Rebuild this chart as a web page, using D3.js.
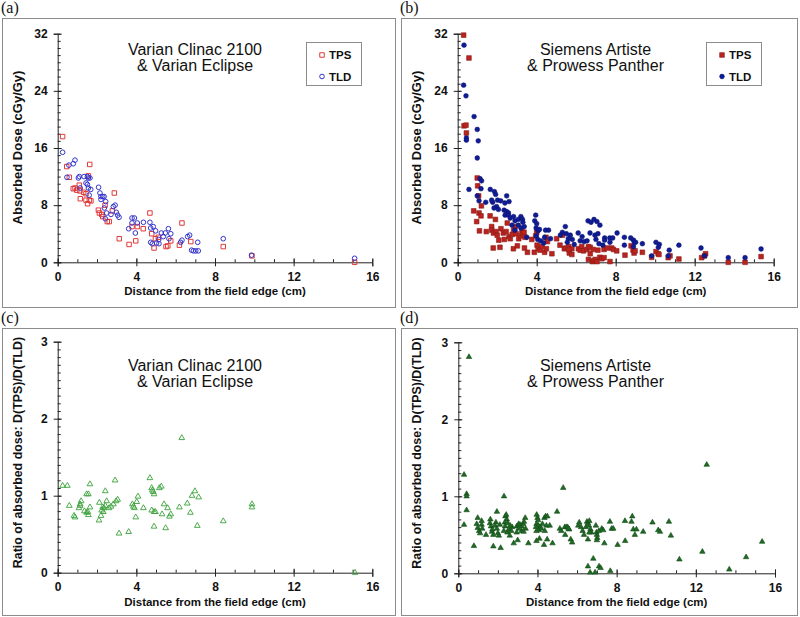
<!DOCTYPE html>
<html><head><meta charset="utf-8">
<script src="https://cdn.jsdelivr.net/npm/d3@7"></script>
<style>body{margin:0;background:#fff}svg{display:block}</style>
</head><body>
<svg id="chart" width="800" height="617"></svg>
<script>
// ---------- data ----------
const panelLabels = ["(a)", "(b)", "(c)", "(d)"];
const titlesA = ["Varian Clinac 2100", "& Varian Eclipse"];
const titlesB = ["Siemens Artiste", "& Prowess Panther"];
const seriesNames = ["TPS", "TLD"];
const xTicks = [0, 4, 8, 12, 16];
const doseTicks = [0, 8, 16, 24, 32];
const ratioTicks = [0, 1, 2, 3];
const xLabel = "Distance from the field edge (cm)";
const doseLabel = "Absorbed Dose (cGy/Gy)";
const ratioLabel = "Ratio of absorbed dose: D(TPS)/D(TLD)";

const varianTPS = [[0.25,17.6],[0.46,13.4],[0.59,11.9],[0.79,10.3],[0.88,10.4],[0.97,10.1],[1.1,10.8],[1.13,10.0],[1.15,8.9],[1.32,9.8],[1.44,9.6],[1.44,8.7],[1.52,8.2],[1.56,12.1],[1.63,13.7],[1.61,8.7],[1.69,8.6],[2.07,7.3],[2.12,6.9],[2.24,6.7],[2.29,6.4],[2.41,8.0],[2.52,5.7],[2.62,5.7],[2.78,7.2],[2.88,9.7],[3.13,3.3],[3.63,2.5],[3.97,3.0],[3.78,5.0],[4.05,5.0],[4.35,4.7],[4.69,6.9],[4.78,4.0],[4.9,2.0],[4.97,3.3],[5.12,3.5],[5.51,2.2],[5.6,2.3],[5.75,3.0],[6.32,5.5],[6.19,2.4],[6.77,2.9],[8.42,2.2],[9.88,0.9],[15.1,0.0]];
const varianTLD = [[0.25,15.4],[0.47,11.9],[0.57,13.6],[0.79,13.8],[0.88,14.3],[1.05,11.8],[1.1,12.0],[1.14,10.4],[1.34,12.0],[1.44,11.1],[1.51,12.0],[1.56,11.8],[1.51,10.9],[1.56,10.4],[1.64,11.8],[1.68,10.2],[1.6,9.4],[2.08,10.5],[2.15,9.7],[2.2,9.2],[2.29,9.2],[2.36,9.2],[2.2,8.8],[2.44,8.5],[2.37,7.6],[2.42,6.1],[2.49,6.9],[2.71,6.7],[2.83,7.8],[2.92,8.0],[2.98,7.0],[3.05,6.6],[3.12,6.3],[3.61,4.7],[3.78,6.2],[3.9,6.2],[3.78,5.5],[3.95,4.1],[4.05,5.5],[4.36,5.6],[4.69,5.6],[4.73,4.8],[4.86,5.0],[4.98,4.4],[4.73,2.8],[4.81,2.6],[5.03,2.7],[5.14,3.2],[5.27,4.1],[5.37,3.6],[5.47,4.1],[5.63,4.7],[5.75,4.0],[5.66,3.3],[5.15,2.6],[6.25,2.8],[6.32,3.1],[6.61,3.6],[6.71,3.8],[6.81,1.7],[6.9,1.6],[7.02,1.6],[7.15,1.6],[7.12,2.8],[8.42,3.3],[9.86,1.0],[15.1,0.56]];
const siemensTPS = [[0.3,31.8],[0.57,28.6],[0.32,19.1],[0.42,19.2],[0.44,18.1],[0.99,11.8],[1.01,10.7],[1.06,9.3],[0.81,7.2],[0.96,5.7],[1.08,6.9],[1.18,6.5],[1.1,4.4],[1.2,7.9],[1.45,4.3],[1.64,6.5],[1.72,5.0],[1.72,4.5],[1.81,4.1],[1.8,2.0],[1.91,6.0],[1.94,4.3],[2.0,3.8],[2.08,3.1],[2.14,2.1],[2.19,4.7],[2.31,4.1],[2.36,3.2],[2.45,4.3],[2.51,5.5],[2.6,3.6],[2.66,3.3],[2.76,3.9],[2.82,1.9],[2.83,4.5],[2.91,5.0],[2.96,4.0],[3.02,2.3],[3.09,3.3],[3.2,3.7],[3.25,4.4],[3.3,4.0],[3.36,4.2],[3.41,3.5],[3.38,2.0],[3.53,1.4],[3.75,3.2],[3.88,1.4],[3.95,3.7],[4.0,4.2],[4.02,2.4],[4.07,1.9],[4.17,1.7],[4.27,2.2],[4.4,1.4],[4.47,3.5],[4.49,1.9],[4.54,2.9],[4.77,1.2],[5.01,3.3],[5.18,2.4],[5.3,3.8],[5.4,1.9],[5.48,2.0],[5.62,2.2],[5.78,1.9],[5.65,1.3],[5.78,1.1],[5.62,1.8],[6.11,1.9],[6.2,1.7],[6.28,2.2],[6.37,1.6],[6.54,1.8],[6.62,2.2],[6.71,2.1],[6.71,1.2],[6.86,1.8],[6.62,0.4],[6.82,0.1],[6.88,0.2],[6.96,0.4],[7.05,0.1],[7.1,1.7],[7.2,0.7],[7.3,0.5],[7.41,1.8],[7.57,2.0],[7.8,2.0],[7.88,1.8],[8.05,1.6],[7.41,0.65],[7.71,0.1],[8.47,1.0],[8.78,2.3],[8.88,1.7],[8.93,1.3],[8.98,1.6],[9.35,1.4],[9.82,0.7],[10.04,1.5],[10.15,1.2],[10.19,1.1],[10.66,0.65],[10.75,0.9],[11.2,0.46],[12.35,0.65],[12.55,1.2],[12.5,0.9],[13.7,0.0],[14.55,0.0],[15.36,0.8]];
const siemensTLD = [[0.32,30.4],[0.3,24.8],[0.42,23.3],[0.83,20.4],[0.99,18.6],[0.44,17.4],[0.44,17.1],[1.04,17.0],[0.99,14.6],[1.13,11.7],[1.21,11.4],[1.18,10.3],[0.57,10.2],[0.99,9.3],[1.08,8.6],[1.42,8.4],[1.65,10.2],[1.86,9.9],[1.92,9.5],[1.77,8.4],[1.72,8.7],[2.02,8.7],[2.18,8.6],[1.97,7.8],[1.84,7.6],[2.06,7.4],[2.48,9.3],[2.6,8.5],[2.39,8.3],[2.35,7.3],[2.48,7.1],[2.57,6.9],[2.4,6.6],[2.57,6.6],[2.66,6.2],[2.83,6.4],[2.9,5.8],[3.07,6.0],[3.2,6.4],[3.28,6.0],[3.3,5.6],[3.07,5.2],[3.2,4.8],[3.37,5.0],[2.75,5.2],[2.9,4.5],[3.5,3.5],[3.95,6.6],[3.9,5.8],[4.0,5.4],[3.97,4.8],[4.07,4.4],[4.14,4.6],[3.98,3.7],[4.05,3.2],[4.2,3.0],[4.35,2.7],[4.45,4.5],[4.6,4.5],[4.4,3.5],[4.7,3.3],[5.2,3.8],[5.3,4.2],[5.45,5.0],[5.5,4.0],[5.6,3.3],[5.7,3.8],[5.8,3.2],[5.55,2.8],[5.9,2.5],[6.1,4.1],[6.2,3.0],[6.3,3.6],[6.4,2.9],[6.55,3.0],[6.6,5.8],[6.7,4.1],[6.75,5.6],[6.9,6.0],[6.95,3.8],[7.05,5.7],[7.1,4.0],[7.0,3.2],[7.2,5.2],[7.15,2.6],[7.35,2.4],[7.44,3.4],[7.44,3.1],[7.7,3.4],[7.85,3.4],[8.07,4.1],[7.71,2.8],[8.44,3.5],[8.44,2.4],[8.76,3.4],[8.9,3.1],[8.95,2.8],[9.01,2.8],[8.9,2.2],[9.35,2.6],[9.82,0.9],[10.04,2.8],[10.21,2.5],[10.16,2.1],[10.71,1.7],[10.66,0.9],[11.2,2.4],[12.32,2.0],[12.5,0.9],[13.7,0.65],[14.55,0.65],[15.36,1.86]];
const varianRatio = [[0.25,1.13],[0.49,1.13],[0.59,0.87],[0.83,0.74],[0.88,0.72],[1.08,0.84],[1.14,0.89],[1.19,0.93],[1.14,0.87],[1.36,0.8],[1.47,0.78],[1.56,0.75],[1.53,0.79],[1.64,0.85],[1.47,1.02],[1.56,1.02],[1.64,1.15],[2.1,0.68],[2.12,0.91],[2.2,0.74],[2.24,0.81],[2.29,0.85],[2.32,0.79],[2.36,0.84],[2.42,0.87],[2.42,1.06],[2.49,0.93],[2.61,0.84],[2.71,0.86],[2.83,0.89],[2.92,1.2],[2.97,0.93],[3.05,0.95],[3.12,0.51],[3.61,0.53],[3.8,0.89],[3.85,0.86],[3.9,0.84],[3.97,0.72],[4.02,0.92],[4.08,0.99],[4.36,0.84],[4.69,1.23],[4.78,1.1],[4.81,1.07],[4.86,1.05],[4.9,1.02],[4.78,0.81],[4.9,0.79],[4.97,0.79],[4.9,0.6],[5.17,1.1],[5.27,1.12],[5.31,0.76],[5.41,0.89],[5.49,0.58],[5.59,0.84],[5.68,0.73],[5.75,0.76],[6.19,0.85],[6.31,1.75],[6.59,0.9],[6.75,0.78],[6.83,1.0],[6.98,1.06],[7.17,0.98],[7.1,0.61],[8.42,0.67],[9.88,0.89],[9.88,0.85],[15.12,0.0]];
const siemensRatio = [[0.54,2.81],[0.29,1.28],[0.42,1.03],[0.42,1.0],[0.42,0.82],[0.29,0.63],[0.79,0.355],[0.98,0.72],[0.93,0.64],[0.98,0.59],[1.05,0.55],[1.1,0.52],[1.18,0.68],[1.18,0.63],[1.21,0.58],[1.4,0.5],[1.6,0.65],[1.65,0.61],[1.7,0.54],[1.77,0.5],[1.72,0.57],[1.62,0.7],[1.77,0.35],[1.95,0.8],[1.9,0.66],[1.85,0.62],[1.95,0.58],[2.0,0.52],[2.05,0.49],[2.1,0.63],[2.14,0.33],[2.31,1.0],[2.38,0.74],[2.42,0.76],[2.45,0.7],[2.35,0.66],[2.5,0.65],[2.36,0.61],[2.55,0.57],[2.3,0.55],[2.48,0.53],[2.6,0.49],[2.68,0.55],[2.72,0.6],[2.62,0.62],[2.8,0.39],[3.0,0.43],[2.95,0.61],[3.05,0.64],[3.12,0.63],[3.2,0.61],[3.28,0.64],[3.32,0.67],[3.38,0.72],[3.4,0.58],[3.2,0.55],[3.05,0.58],[2.95,0.53],[3.3,0.54],[3.54,0.39],[3.96,0.76],[4.0,0.72],[4.03,0.69],[3.95,0.64],[4.05,0.62],[4.12,0.6],[3.92,0.6],[4.08,0.56],[3.95,0.55],[4.1,0.45],[3.95,0.42],[4.2,0.58],[4.25,0.64],[4.33,0.37],[4.35,0.72],[4.41,0.74],[4.5,0.74],[4.45,0.62],[4.37,0.55],[4.49,0.44],[4.62,0.62],[4.76,0.39],[4.99,0.8],[5.3,1.11],[5.13,0.58],[5.2,0.55],[5.38,0.6],[5.45,0.6],[5.52,0.6],[5.4,0.5],[5.6,0.57],[5.68,0.44],[5.75,0.4],[5.57,0.58],[6.06,0.62],[6.11,0.66],[6.2,0.6],[6.28,0.55],[6.35,0.5],[6.45,0.6],[6.5,0.67],[6.55,0.65],[6.6,0.62],[6.62,0.68],[6.68,0.57],[6.72,0.53],[6.55,0.44],[6.62,0.53],[6.82,0.19],[6.55,0.09],[6.66,0.01],[6.91,0.01],[7.11,0.09],[7.19,0.07],[6.95,0.62],[6.98,0.53],[7.0,0.5],[7.02,0.46],[7.0,0.43],[7.1,0.55],[7.25,0.58],[7.32,0.56],[7.38,0.39],[7.66,0.67],[7.75,0.58],[7.83,0.58],[7.68,0.03],[8.05,0.37],[8.42,0.68],[8.43,0.42],[8.75,0.67],[8.79,0.74],[8.84,0.57],[8.92,0.5],[9.0,0.57],[9.34,0.54],[9.81,0.66],[10.1,0.56],[10.19,0.54],[10.64,0.67],[10.74,0.49],[11.17,0.18],[12.33,0.28],[12.55,1.41],[13.69,0.05],[14.54,0.21],[15.35,0.41]];

// ---------- drawing ----------
const svg = d3.select("#chart");
const FONT = "Liberation Sans, Arial, Helvetica, sans-serif";

const markers = {
  hollowSquare: {type: d3.symbolSquare, size: 20, fill: "none", stroke: "#e03a3a", sw: 1},
  hollowCircle: {type: d3.symbolCircle, size: 17, fill: "none", stroke: "#3434cc", sw: 1},
  filledSquare: {type: d3.symbolSquare, size: 22, fill: "#b8241f", stroke: "#8e1b17", sw: 0.6},
  filledCircle: {type: d3.symbolCircle, size: 18, fill: "#101c94", stroke: "#0a1270", sw: 0.5},
  hollowTri: {type: d3.symbolTriangle, size: 14, fill: "none", stroke: "#3aa23a", sw: 0.9},
  filledTri: {type: d3.symbolTriangle, size: 13, fill: "#1f6a24", stroke: "#134a17", sw: 0.6}
};

function drawPanel(cfg) {
  const g = svg.append("g");
  g.append("rect").attr("x", cfg.frame[0] + 0.5).attr("y", cfg.frame[1] + 0.5)
    .attr("width", cfg.frame[2]).attr("height", cfg.frame[3])
    .attr("fill", "none").attr("stroke", "#8c8c8c").attr("stroke-width", 1);
  g.append("text").attr("x", cfg.frame[0] - 1).attr("y", cfg.frame[1] - 5)
    .attr("font-family", "Liberation Serif, Times New Roman, serif").attr("font-size", 16)
    .attr("fill", "#111").text(cfg.label);

  const x = d3.scaleLinear().domain([0, 16]).range([cfg.left, cfg.right]);
  const y = d3.scaleLinear().domain(cfg.yDomain).range([cfg.bottom, cfg.top]);

  // minor ticks (inside)
  g.append("g").attr("transform", `translate(0,${cfg.bottom})`)
    .call(d3.axisBottom(x).tickValues(d3.range(0, 16.01, 1)).tickSize(-3).tickFormat(""))
    .call(s => { s.select(".domain").remove(); s.selectAll("line").attr("stroke", "#222"); });
  g.append("g").attr("transform", `translate(${cfg.left},0)`)
    .call(d3.axisLeft(y).tickValues(d3.range(cfg.yDomain[0], cfg.yDomain[1] + 1e-6, cfg.minorStep)).tickSize(-3).tickFormat(""))
    .call(s => { s.select(".domain").remove(); s.selectAll("line").attr("stroke", "#222"); });

  // major axes
  const gx = g.append("g").attr("transform", `translate(0,${cfg.bottom})`)
    .call(d3.axisBottom(x).tickValues(xTicks).tickSizeOuter(0).tickSize(4).tickFormat(d3.format("d")));
  gx.selectAll(".tick line").attr("y1", -4).attr("y2", 4);
  gx.selectAll(".tick text").attr("y", 10).attr("dy", "0.71em");
  const gy = g.append("g").attr("transform", `translate(${cfg.left},0)`)
    .call(d3.axisLeft(y).tickValues(cfg.yTicks).tickSizeOuter(0).tickSize(4).tickFormat(d3.format("d")));
  gy.selectAll(".tick line").attr("x1", -4).attr("x2", 4);
  gy.selectAll(".tick text").attr("x", -10);
  [gx, gy].forEach(a => {
    a.select(".domain").attr("stroke", "#222");
    a.selectAll(".tick line").attr("stroke", "#222");
    a.selectAll(".tick text").attr("font-family", FONT).attr("font-size", 12)
      .attr("font-weight", "bold").attr("fill", "#111");
  });

  // axis titles
  g.append("text").attr("x", (cfg.left + cfg.right) / 2).attr("y", cfg.bottom + 33)
    .attr("text-anchor", "middle").attr("font-family", FONT).attr("font-size", 11.5)
    .attr("font-weight", "bold").attr("fill", "#111").text(xLabel);
  g.append("text").attr("transform", `translate(${cfg.frame[0] + 20},${cfg.yLabelMid}) rotate(-90)`)
    .attr("text-anchor", "middle").attr("font-family", FONT).attr("font-size", cfg.yLabelSize)
    .attr("font-weight", "bold").attr("fill", "#111").text(cfg.yLabel);

  // chart title
  cfg.title.forEach((t, i) => {
    g.append("text").attr("x", cfg.titleX).attr("y", cfg.titleY + i * 16)
      .attr("text-anchor", "middle").attr("font-family", FONT).attr("font-size", 16)
      .attr("fill", "#111").text(t);
  });

  // series
  cfg.series.forEach(s => {
    const m = markers[s.marker];
    g.append("g").selectAll("path").data(s.data).join("path")
      .attr("transform", d => `translate(${x(d[0])},${y(d[1])})`)
      .attr("d", d3.symbol().type(m.type).size(m.size))
      .attr("fill", m.fill).attr("stroke", m.stroke).attr("stroke-width", m.sw);
  });

  // legend
  if (cfg.legend) {
    const L = cfg.legend;
    g.append("rect").attr("x", L[0] + 0.5).attr("y", L[1] + 0.5).attr("width", 55).attr("height", 43)
      .attr("fill", "#fff").attr("stroke", "#8c8c8c");
    cfg.series.forEach((s, i) => {
      const m = markers[s.marker];
      const yy = L[1] + 13 + i * 21.5;
      g.append("path").attr("transform", `translate(${L[0] + 16},${yy})`)
        .attr("d", d3.symbol().type(m.type).size(m.size))
        .attr("fill", m.fill).attr("stroke", m.stroke).attr("stroke-width", m.sw);
      g.append("text").attr("x", L[0] + 23).attr("y", yy + 4).attr("font-family", FONT)
        .attr("font-size", 11.5).attr("font-weight", "bold").attr("fill", "#111").text(seriesNames[i]);
    });
  }
}

drawPanel({label: panelLabels[0], frame: [2, 18, 393, 289], left: 57.7, right: 372.3, top: 33.7, bottom: 262.3,
  yDomain: [0, 32], yTicks: doseTicks, minorStep: 1, yLabel: doseLabel, yLabelSize: 13, yLabelMid: 147.5,
  title: titlesA, titleX: 195, titleY: 55, legend: [306, 42],
  series: [{data: varianTPS, marker: "hollowSquare"}, {data: varianTLD, marker: "hollowCircle"}]});
drawPanel({label: panelLabels[1], frame: [401, 18, 396, 289], left: 457.7, right: 773.7, top: 33.7, bottom: 262.3,
  yDomain: [0, 32], yTicks: doseTicks, minorStep: 1, yLabel: doseLabel, yLabelSize: 13, yLabelMid: 147.5,
  title: titlesB, titleX: 595.5, titleY: 55, legend: [706, 42],
  series: [{data: siemensTPS, marker: "filledSquare"}, {data: siemensTLD, marker: "filledCircle"}]});
drawPanel({label: panelLabels[2], frame: [2, 328, 393, 287], left: 57.7, right: 372.3, top: 341.7, bottom: 572.7,
  yDomain: [0, 3], yTicks: ratioTicks, minorStep: 0.1, yLabel: ratioLabel, yLabelSize: 12.4, yLabelMid: 452.5,
  title: titlesA, titleX: 195, titleY: 370.5,
  series: [{data: varianRatio, marker: "hollowTri"}]});
drawPanel({label: panelLabels[3], frame: [401, 328, 396, 287], left: 458.3, right: 775, top: 342.3, bottom: 573.3,
  yDomain: [0, 3], yTicks: ratioTicks, minorStep: 0.1, yLabel: ratioLabel, yLabelSize: 12.4, yLabelMid: 453,
  title: titlesB, titleX: 595.5, titleY: 370.5,
  series: [{data: siemensRatio, marker: "filledTri"}]});
</script>
</body></html>
